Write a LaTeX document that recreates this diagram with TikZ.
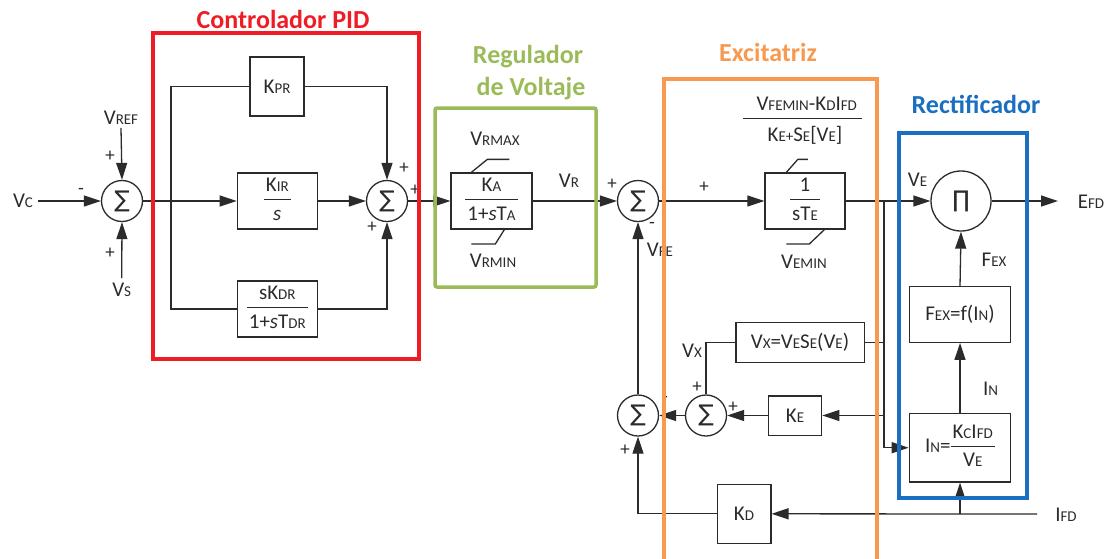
\documentclass[tikz,border=0pt]{standalone}
\usepackage{fontspec}
\setmainfont{Carlito}
\newfontfamily\opfont{DejaVu Sans}
\usetikzlibrary{arrows.meta,calc}
\definecolor{ln}{HTML}{2B2B2B}
\definecolor{pidred}{HTML}{EE1D25}
\definecolor{rgreen}{HTML}{9BBB59}
\definecolor{exorange}{HTML}{F79A50}
\definecolor{rblue}{HTML}{1A6FC0}
\newcommand{\lo}[1]{{\fontsize{15}{15}\selectfont #1}}
\newcommand{\fr}[2]{{\setlength{\arrayrulewidth}{1.2pt}\renewcommand{\arraystretch}{1}\begin{tabular}{@{\hspace{2pt}}c@{\hspace{2pt}}}#1\\\hline\rule{0pt}{20pt}#2\end{tabular}}}
\begin{document}
\begin{tikzpicture}[x=1pt,y=-1pt,
  font=\fontsize{21}{24}\selectfont,
  wire/.style={draw=ln, line width=1.3pt},
  ar/.style={wire, -{Triangle[length=17pt,width=11pt]}},
  blk/.style={draw=ln, line width=1.3pt, inner sep=0pt, align=center, text=ln},
  sumc/.style={circle, draw=ln, line width=1.3pt, minimum size=41pt, inner sep=0pt, text=ln, font=\opfont\fontsize{23}{23}\selectfont},
  lbl/.style={inner sep=0pt, text=ln},
  sgn/.style={inner sep=0pt, text=ln, font=\fontsize{19}{19}\selectfont},
  frm/.style={line width=3.5pt},
  ttl/.style={inner sep=0pt, anchor=base, font=\fontsize{26}{28}\selectfont\bfseries}
]
\useasboundingbox (0,0) rectangle (1107,558);

% summing junctions
\node[sumc] (s1) at (122,201) {∑};
\node[sumc] (s2) at (387,201) {∑};
\node[sumc] (s3) at (638,201) {∑};
\node[sumc] (s4) at (638,415.5) {∑};
\node[sumc] (s5) at (706,415.5) {∑};
\node[sumc, minimum size=60pt] (pi) at (961,201) {∏};

% blocks
\node[blk, minimum width=54pt, minimum height=59pt] (kpr) at (277,86.5) {K\lo{PR}};
\node[blk, minimum width=80pt, minimum height=56pt] (kir) at (277.3,201) {\fr{K\lo{IR}}{\textit{s}}};
\node[blk, minimum width=80pt, minimum height=56pt] (kdr) at (277.3,309) {\fr{sK\lo{DR}}{1+\textit{s}T\lo{DR}}};
\node[blk, minimum width=81pt, minimum height=56pt] (ka) at (491.5,201) {\fr{K\lo{A}}{1+\textit{s}T\lo{A}}};
\node[blk, minimum width=80pt, minimum height=56pt] (te) at (805,201) {\fr{1}{sT\lo{E}}};
\node[blk, minimum width=101.4pt, minimum height=55.6pt] (fex) at (960,314.5) {F\lo{EX}=f(I\lo{N})};
\node[blk, minimum width=101.4pt, minimum height=68.7pt] (in) at (960,447.7) {I\lo{N}=\fr{K\lo{C}I\lo{FD}}{V\lo{E}}};
\node[blk, minimum width=53.4pt, minimum height=39.3pt] (ke) at (795,415.5) {K\lo{E}};
\node[blk, minimum width=128.3pt, minimum height=39.6pt] (vx) at (800,342.5) {V\lo{X}=V\lo{E}S\lo{E}(V\lo{E})};
\node[blk, minimum width=53.7pt, minimum height=59pt] (kd) at (744,513.8) {K\lo{D}};

% labels
\node[lbl] (vc) at (23,201) {V\lo{C}};
\node[lbl] (vref) at (121,118) {V\lo{REF}};
\node[lbl] (vs) at (121.7,290) {V\lo{S}};
\node[lbl] (vrmax) at (495,139) {V\lo{RMAX}};
\node[lbl] (vrmin) at (493,261) {V\lo{RMIN}};
\node[lbl] (vr) at (569,181) {V\lo{R}};
\node[lbl] (vfe) at (660,250) {V\lo{FE}};
\node[lbl] (vemin) at (804,262) {V\lo{EMIN}};
\node[lbl] (fnum) at (806.7,104) {V\lo{FEMIN}-K\lo{D}I\lo{FD}};
\node[lbl] (fden) at (805,135) {K\lo{E+}S\lo{E}[V\lo{E}]};
\node[lbl] (ve) at (917.5,180) {V\lo{E}};
\node[lbl] (efd) at (1091,202) {E\lo{FD}};
\node[lbl] (fexl) at (994,260) {F\lo{EX}};
\node[lbl] (inl) at (990.5,389) {I\lo{N}};
\node[lbl] (ifd) at (1066,515) {I\lo{FD}};
\node[lbl] (vxl) at (692,351) {V\lo{X}};

% signs
\node[sgn] at (81,191) {-};
\node[sgn] at (110,156) {+};
\node[sgn] at (110,253) {+};
\node[sgn] at (404,168) {+};
\node[sgn] at (372,227) {+};
\node[sgn] at (415,190) {+};
\node[sgn] at (612,184) {+};
\node[sgn] at (652,225) {-};
\node[sgn] at (704,187) {+};
\node[sgn] at (625,450) {+};
\node[sgn] at (665,399) {-};
\node[sgn] at (697,387) {+};
\node[sgn] at (733,407) {+};

% coordinates
\coordinate (b1) at (171,201);
\coordinate (b2) at (884,201);
\coordinate (b3) at (884,342.5);
\coordinate (b4) at (884,415.5);
\coordinate (out) at (1058,201);
\coordinate (ifd0) at (1037,514);
\coordinate (b5) at (960,514);

% connectors
\draw[ar] ([xshift=5pt]vc.east) -- (s1.west);
\draw[ar] ([yshift=-3pt]vref.south) -- (s1.north);
\draw[ar] ([yshift=5pt]vs.north) -- (s1.south);
\draw[ar] (s1.east) -- (kir.west);
\draw[wire] (kpr.west) -| (b1) |- (kdr.west);
\draw[ar] (kpr.east) -| (s2.north);
\draw[ar] (kir.east) -- (s2.west);
\draw[ar] (kdr.east) -| (s2.south);
\draw[ar] (s2.east) -- (ka.west);
\draw[ar] (ka.east) -- (s3.west);
\draw[ar] (s3.east) -- (te.west);
\draw[ar] (te.east) -- (pi.west);
\draw[ar] (pi.east) -- (out);
\draw[ar] (b2) |- (in.west);
\draw[wire] (vx.east) -- (b3);
\draw[ar] (b4) -- (ke.east);
\draw[ar] (ke.west) -- (s5.east);
\draw[ar] (s5.west) -- (s4.east);
\draw[wire] (vx.west) -| (s5.north);
\draw[ar] (s4.north) -- (s3.south);
\draw[ar] (fex.north) -- (pi.south);
\draw[ar] (in.north) -- (fex.south);
\draw[ar] (ifd0) -- (kd.east);
\draw[ar] (b5) -- (in.south);
\draw[ar] (kd.west) -| (s4.south);

% fraction bar of the limit expression
\draw[wire] ($(fnum.south)+(-63.7,7.3)$) -- ++(119,0);

% limiters
\draw[wire] ($(ka.north west)+(21,0)$) -- ++(16,-13) -- ++(22,0);
\draw[wire] ($(ka.south west)+(21,14.3)$) -- ++(24,0) -- ++(9,-14.3);
\draw[wire] ($(te.north west)+(22,0)$) -- ++(11.5,-13) -- ++(10,0);
\draw[wire] ($(te.south west)+(22,14.3)$) -- ++(23,0) -- ++(15,-14.3);

% frames
\draw[frm, draw=pidred] (153,33) rectangle (419,359);
\draw[frm, draw=rgreen, rounded corners=2pt] (435,108) rectangle (596,287);
\draw[frm, draw=exorange] (664,562) -- (664,79) -- (877,79) -- (877,562);
\draw[frm, draw=rblue] (899,133) rectangle (1027,498);

% titles
\node[ttl, text=pidred] (tpid) at (283,28) {Controlador PID};
\node[ttl, text=rgreen] (treg1) at (528,63) {Regulador};
\node[ttl, text=rgreen] (treg2) at (531,95) {de Voltaje};
\node[ttl, text=exorange] (texc) at (768,61.5) {Excitatriz};
\node[ttl, text=rblue] (trec) at (976,113) {Rectificador};
\end{tikzpicture}
\end{document}
